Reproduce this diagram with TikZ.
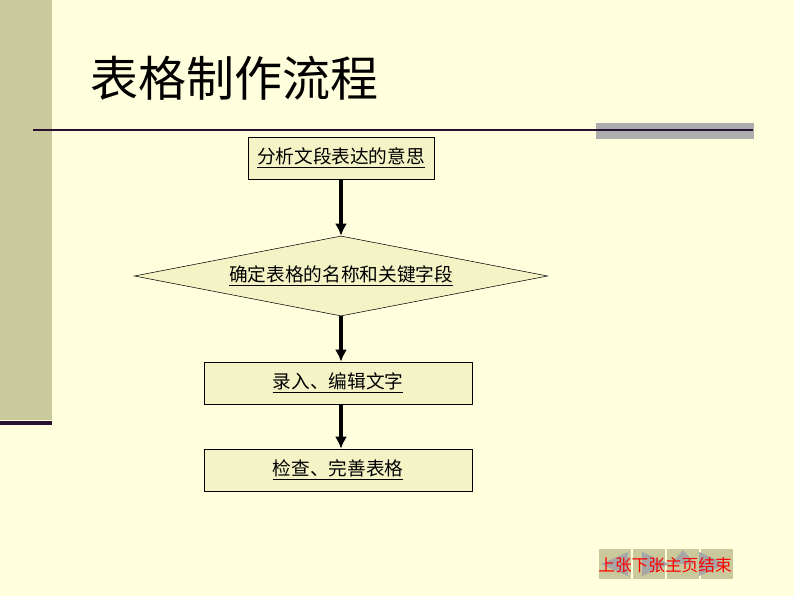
\documentclass[tikz,border=0pt]{standalone}
\usepackage{fontspec}
\setmainfont{Noto Sans CJK SC}
\usetikzlibrary{shapes.geometric, arrows.meta}
\definecolor{bgpaper}{HTML}{FFFFDD}
\definecolor{sidebar}{HTML}{C9C99B}
\definecolor{boxfill}{HTML}{F3F3C6}
\definecolor{darkline}{HTML}{2A1030}
\tikzset{
  stepbox/.style={draw=black, fill=boxfill, minimum height=31.5pt, inner sep=1pt, font=\fontsize{14}{16}\selectfont},
  decision/.style={diamond, draw=black, fill=boxfill, aspect=5.2, inner sep=1pt, minimum width=310pt, minimum height=60pt, font=\fontsize{14}{16}\selectfont},
  flowarrow/.style={-{Latex[length=9pt, width=9pt]}, line width=3pt},
  navbtn/.style={fill=sidebar, minimum width=24pt, minimum height=22pt, inner sep=0pt}
}
\begin{document}
\begin{tikzpicture}[x=0.75pt, y=-0.75pt]
		\fill [bgpaper] (0,0) rectangle (794,596);
		\useasboundingbox (0,0) rectangle (794,596);
		% side bar and rules
		\fill [sidebar] (0,0) rectangle (52,420);
		\fill [darkline] (0,421) rectangle (52,425);
		\fill [black!32] (596,123) rectangle (754,139);
		\draw [darkline, line width=1.5pt] (33,130)--(753,130);
		\node [anchor=west, font=\fontsize{36}{40}\selectfont] (title) at (86,78) {表格制作流程};
		% flow
		\node [stepbox, minimum width=139.5pt] (analyse) at (341,158) {\underline{分析文段表达的意思}};
		\node [decision] (define) at (341,276) {\underline{确定表格的名称和关键字段}};
		\node [stepbox, minimum width=201pt] (enter) at (338,383) {\underline{录入、编辑文字}};
		\node [stepbox, minimum width=201pt] (check) at (338,470) {\underline{检查、完善表格}};
		\draw [flowarrow] (analyse.south -| define.north)--(define.north);
		\draw [flowarrow] (define.south)--(define.south |- enter.north);
		\draw [flowarrow] (define.south |- enter.south)--(define.south |- check.north);
		% navigation
		\foreach \i in {0,1,2,3} {
			\node [navbtn] (nav\i) at (615+\i*34,564) {};
		}
		\fill [gray!70] (601,564)--(628,552)--(628,576)--cycle;
		\fill [gray!70] (669,564)--(642,552)--(642,576)--cycle;
		\fill [gray!70] (671,564)--(683,550)--(695,564)--cycle;
		\fill [gray!70] (699,552)--(726,564)--(699,576)--cycle;
		\node [text=red, font=\fontsize{12.5}{14}\selectfont] (navtext) at (665,565) {上张下张主页结束};
	\end{tikzpicture}
\end{document}
